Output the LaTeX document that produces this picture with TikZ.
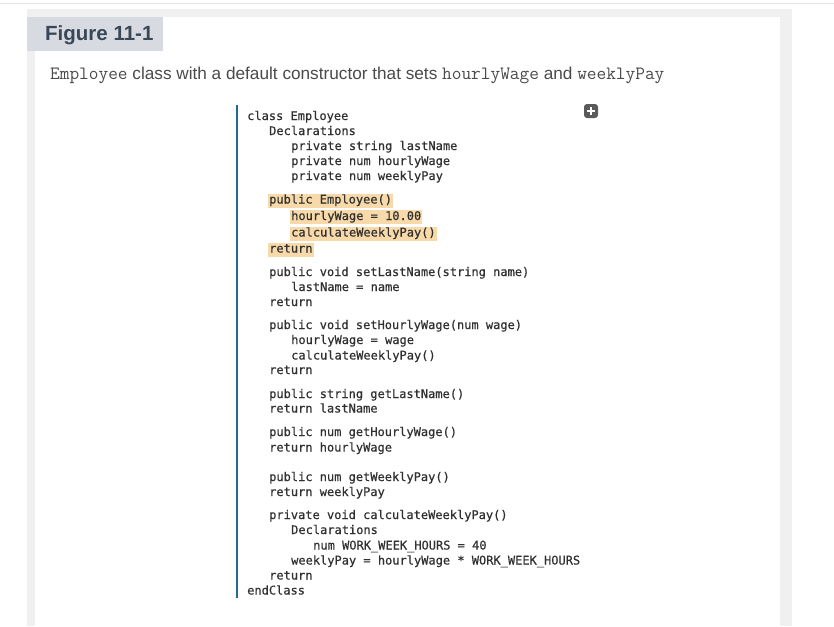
\documentclass[tikz,border=0pt]{standalone}
\usepackage{fontspec}
\setmainfont{Liberation Sans}
\newfontfamily\codefont[FakeBold=0.5]{DejaVu Sans Mono}
\usepackage{tikz}

\definecolor{topline}{HTML}{E3E3E3}
\definecolor{panelgray}{HTML}{F0F0F0}
\definecolor{labelfill}{HTML}{D7DAE0}
\definecolor{labeltext}{HTML}{3A4756}
\definecolor{captext}{HTML}{4A4A4A}
\definecolor{codetext}{HTML}{303030}
\definecolor{hlorange}{HTML}{F8D9A9}
\definecolor{ruleteal}{HTML}{1D6E8A}
\definecolor{plusfill}{HTML}{5A5A5A}

\newcommand\capcode[1]{{\ttfamily\fontsize{18.8}{20}\selectfont #1}}

\tikzset{
  code/.style={anchor=base west, inner xsep=1pt, inner ysep=0.5pt,
    text height=9.5pt, text depth=3.5pt, text=codetext,
    font=\codefont\fontsize{12}{15}\selectfont},
  hilite/.style={code, fill=hlorange}
}

\begin{document}
\begin{tikzpicture}[x=1pt, y=-1pt]
\useasboundingbox (0,0) rectangle (834,626);

% page frame
\draw[topline, line width=1pt] (0,4) -- (834,4);
\fill[panelgray] (27,9) rectangle (792,626);
\fill[white] (35,17) rectangle (780,626);
\fill[labelfill] (27,17) rectangle (163,51);

\node (fig) at (45,41) [anchor=base west, inner sep=0pt, text=labeltext,
  font=\bfseries\fontsize{20.5}{23}\selectfont] {Figure 11-1};
\node (cap) at (50,79) [anchor=base west, inner sep=0pt, text=captext,
  font=\fontsize{17.2}{20}\selectfont]
  {\capcode{Employee} class with a default constructor that sets
   \capcode{hourlyWage} and \capcode{weeklyPay}};

% code listing
\draw[ruleteal, line width=2pt] (237,105) -- (237,598);

\node (plus) at (591,111) [rectangle, rounded corners=3pt, fill=plusfill,
  minimum size=14pt, inner sep=0pt] {};
\draw[white, line width=2.4pt] ([xshift=-4pt]plus.center) -- ([xshift=4pt]plus.center);
\draw[white, line width=2.4pt] ([yshift=-4pt]plus.center) -- ([yshift=4pt]plus.center);

\node (cls) at (246,120) [code] {class Employee};
  \node (decl) at (268,135) [code] {Declarations};
    \node (f1) at (290,150) [code] {private string lastName};
    \node (f2) at (290,165) [code] {private num hourlyWage};
    \node (f3) at (290,180) [code] {private num weeklyPay};

  \node (ctor) at (268,203.5) [hilite] {public Employee()};
    \node (ctor1) at (290,220) [hilite] {hourlyWage = 10.00};
    \node (ctor2) at (290,236.5) [hilite] {calculateWeeklyPay()};
  \node (ctorr) at (268,252.5) [hilite] {return};

  \node (sln) at (268,276) [code] {public void setLastName(string name)};
    \node (sln1) at (290,291) [code] {lastName = name};
  \node (slnr) at (268,306) [code] {return};

  \node (shw) at (268,329) [code] {public void setHourlyWage(num wage)};
    \node (shw1) at (290,344) [code] {hourlyWage = wage};
    \node (shw2) at (290,359.5) [code] {calculateWeeklyPay()};
  \node (shwr) at (268,374) [code] {return};

  \node (gln) at (268,398) [code] {public string getLastName()};
  \node (glnr) at (268,412.5) [code] {return lastName};

  \node (ghw) at (268,436) [code] {public num getHourlyWage()};
  \node (ghwr) at (268,451.5) [code] {return hourlyWage};

  \node (gwp) at (268,481) [code] {public num getWeeklyPay()};
  \node (gwpr) at (268,496) [code] {return weeklyPay};

  \node (cwp) at (268,519) [code] {private void calculateWeeklyPay()};
    \node (cwpd) at (290,534) [code] {Declarations};
      \node (cwpk) at (312,549.5) [code] {num WORK\_WEEK\_HOURS = 40};
    \node (cwp1) at (290,564.5) [code] {weeklyPay = hourlyWage * WORK\_WEEK\_HOURS};
  \node (cwpr) at (268,579.5) [code] {return};
\node (endc) at (246,594.5) [code] {endClass};
\end{tikzpicture}
\end{document}
